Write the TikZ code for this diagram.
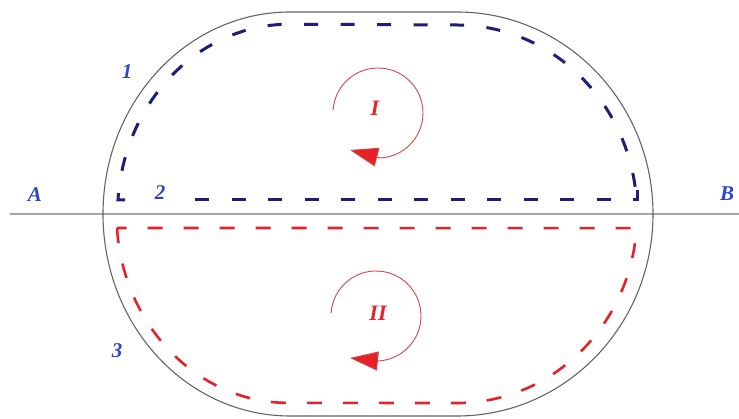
\documentclass[tikz,border=0pt]{standalone}
\usepackage{fontspec}
\setmainfont{Liberation Serif}
\usepackage{tikz}
\usetikzlibrary{arrows.meta,positioning}
\definecolor{outline}{RGB}{100,100,100}
\definecolor{axisgrey}{RGB}{165,165,165}
\definecolor{navy}{RGB}{28,30,120}
\definecolor{dashred}{RGB}{232,32,40}
\definecolor{looped}{RGB}{210,70,70}
\definecolor{lblblue}{RGB}{45,70,200}
\tikzset{
  contour/.style={draw=outline,line width=1.1pt},
  axis/.style={draw=axisgrey,line width=2.2pt},
  pathup/.style={draw=navy,line width=3pt,dash pattern=on 14pt off 22.5pt},
  pathdn/.style={draw=dashred,line width=2.6pt,dash pattern=on 15pt off 21pt},
  circ/.style={draw=looped,line width=0.9pt,-{Triangle[length=28pt,width=19pt,fill=dashred]}},
  ptlbl/.style={text=lblblue,font=\fontsize{21}{24}\selectfont\bfseries\itshape,inner sep=0pt},
  looplbl/.style={text=dashred,font=\fontsize{22}{26}\selectfont\bfseries\itshape,inner sep=0pt},
}
\begin{document}
\begin{tikzpicture}[x=1pt,y=-1pt]
  \useasboundingbox (0,0) rectangle (739,419);

  % axis A--B
  \coordinate (axl) at (10,214);
  \coordinate (axr) at (739,214);
  \draw[axis] (axl) -- (axr);

  % outer contour
  \draw[contour] (103,214) arc[start angle=180,end angle=270,x radius=187,y radius=202]
    -- (457,12) arc[start angle=270,end angle=450,x radius=196,y radius=202]
    -- (290,416) arc[start angle=90,end angle=180,x radius=187,y radius=202];

  % upper path: curved part, then the chord
  \draw[pathup] (125,200) -- (118,200)
    arc[start angle=184,end angle=270,x radius=172,y radius=189]
    -- (457,25) arc[start angle=270,end angle=356,x radius=180,y radius=189];
  \draw[pathup] (637,190) -- (637,200) -- (190,200);
  % lower path
  \draw[pathdn] (117,228) arc[start angle=176,end angle=90,x radius=172,y radius=188]
    -- (457,403) arc[start angle=90,end angle=4,x radius=180,y radius=188] -- cycle;

  % circulation
  \coordinate (tipI)  at (350,150);
  \coordinate (tipII) at (350,358);
  \draw[circ] (378,113) ++(184:45) arc[start angle=184,end angle=447,radius=45] -- (tipI);
  \draw[circ] (376,316) ++(184:45) arc[start angle=184,end angle=448,radius=45] -- (tipII);

  \node[looplbl] (cI)  at (375,108) {I};
  \node[looplbl] (cII) at (378,313) {II};

  % points
  \node[ptlbl] (pA) at (35,195)  {A};
  \node[ptlbl] (pB) at (727,194) {B};
  \node[ptlbl] (p1) at (127,72)  {1};
  \node[ptlbl] (p2) at (160,193) {2};
  \node[ptlbl] (p3) at (117,351) {3};
\end{tikzpicture}
\end{document}
